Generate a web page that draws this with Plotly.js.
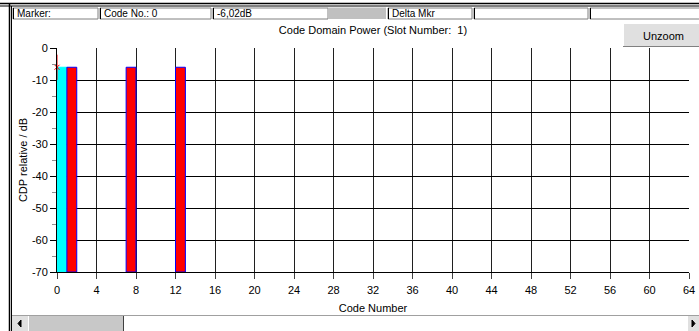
<!DOCTYPE html>
<html>
<head>
<meta charset="utf-8">
<script src="https://cdn.plot.ly/plotly-3.0.1.min.js"></script>
<style>html,body{margin:0;padding:0;background:#fff;}#chart{width:699px;height:331px;}</style>
</head>
<body>
<div id="chart"></div>
<script>
// ---- data ----
const codeNumbers = [0, 1, 7, 12];
const cdpValues = [-6.02, -6.02, -6.02, -6.02];
const barKinds = ['selected', 'active', 'active', 'active'];
const markerCode = [0];
const markerValue = [-6.02];
const xTicks = [0, 4, 8, 12, 16, 20, 24, 28, 32, 36, 40, 44, 48, 52, 56, 60, 64];
const yTicks = [0, -10, -20, -30, -40, -50, -60, -70];
const yMin = -70, yMax = 0, xMin = 0, xMax = 64;
const fieldLabels = ['Marker:', 'Code No.: 0', '-6,02dB', '', 'Delta Mkr', '', ''];

// ---- geometry helpers (pixel -> paper) ----
const L = 57, R = 689, T = 48, B = 272;
const px = v => (v - L) / (R - L);
const py = v => (B - v) / (B - T);
const FONT = 'Liberation Sans, Arial, sans-serif';

const shapes = [];
const annotations = [];
function rect(x0, y0, x1, y1, fill, line, lw) {
  shapes.push({type: 'rect', xref: 'paper', yref: 'paper', x0: px(x0), x1: px(x1), y0: py(y0), y1: py(y1),
    fillcolor: fill, line: {color: line || 'rgba(0,0,0,0)', width: lw === undefined ? 1 : lw}, layer: 'above'});
}
function line(x0, y0, x1, y1, color, w) {
  shapes.push({type: 'line', xref: 'paper', yref: 'paper', x0: px(x0), x1: px(x1), y0: py(y0), y1: py(y1),
    line: {color: color, width: w || 1}, layer: 'above'});
}
function text(x, y, t, size, anchor, color) {
  annotations.push({xref: 'paper', yref: 'paper', x: px(x), y: py(y), text: t, showarrow: false,
    xanchor: anchor || 'left', yanchor: 'middle', font: {family: FONT, size: size || 10, color: color || '#000'}});
}

// window frame
line(0, 3.5, 699, 3.5, '#000', 1.5);
line(0, 6, 699, 6, '#000', 1);
line(9.5, 3, 9.5, 331, '#000', 1.5);
line(11.5, 6, 11.5, 331, '#000', 1);

// status fields row
const fields = [[13, 98], [100, 211], [213, 328], [328, 386], [388, 472], [474, 588], [590, 700]];
fields.forEach((f, i) => {
  if (i === 3) { rect(f[0], 7.5, f[1], 19, '#c0c0c0', null, 0); return; }
  rect(f[0], 8, f[1], 19, '#fff', '#808080', 1);
  line(f[0] + 0.5, 8, f[0] + 0.5, 19, '#000', 1);
  if (fieldLabels[i]) text(f[0] + 2, 13.5, fieldLabels[i], 10, 'left');
});

// Unzoom button
rect(623, 23, 700, 47, '#e0e0e0', null, 0);
line(623, 23.5, 699, 23.5, '#fff', 1);
line(623.5, 23, 623.5, 47, '#fff', 1);
line(623, 46.5, 699, 46.5, '#808080', 1);
text(663, 35.5, 'Unzoom', 11, 'center');

// scrollbar
rect(12, 315, 699, 331, '#fff', null, 0);
line(12, 315.5, 699, 315.5, '#a0a0a0', 1);
rect(12, 316, 28, 331, '#e0e0e0', null, 0);
rect(29, 316, 123, 331, '#c8c8c8', null, 0);
line(123.5, 316, 123.5, 331, '#404040', 1);
rect(688, 316, 699, 331, '#e0e0e0', null, 0);
shapes.push({type: 'path', xref: 'paper', yref: 'paper', layer: 'above',
  path: `M ${px(21)} ${py(320)} L ${px(18)} ${py(323.5)} L ${px(21)} ${py(327)} Z`, fillcolor: '#000', line: {color: '#000', width: 1}});
shapes.push({type: 'path', xref: 'paper', yref: 'paper', layer: 'above',
  path: `M ${px(692)} ${py(320)} L ${px(695)} ${py(323.5)} L ${px(692)} ${py(327)} Z`, fillcolor: '#000', line: {color: '#000', width: 1}});

// ---- traces ----
const barColors = barKinds.map(k => k === 'selected' ? '#00ffff' : '#ff0000');
const barLines = barKinds.map(k => k === 'selected' ? '#00ffff' : '#0000ff');
const bars = {
  type: 'bar',
  x: codeNumbers.map(c => c + 0.5),
  y: cdpValues.map(v => v - yMin),
  base: yMin,
  width: 1,
  marker: {color: barColors, line: {color: barLines, width: 1}},
  hoverinfo: 'skip'
};
const mkLine = {
  type: 'scatter', mode: 'markers', x: markerCode, y: markerValue, cliponaxis: false,
  marker: {symbol: 'line-ns-open', size: 18, color: '#ff0000', line: {color: '#ff0000', width: 1}},
  hoverinfo: 'skip'
};
const mkX = {
  type: 'scatter', mode: 'markers', x: markerCode, y: markerValue, cliponaxis: false,
  marker: {symbol: 'x-thin-open', size: 5, color: '#ff0000', line: {color: '#ff0000', width: 1}},
  hoverinfo: 'skip'
};

const layout = {
  width: 699, height: 331,
  margin: {l: L, r: 699 - R, t: T, b: 331 - B, pad: 0},
  paper_bgcolor: '#fff', plot_bgcolor: '#fff',
  showlegend: false,
  bargap: 0,
  font: {family: FONT, size: 11, color: '#000'},
  title: {text: 'Code Domain Power (Slot Number:  1)', x: 0.5, xref: 'paper', xanchor: 'center',
    y: 1 - 30 / 331, yref: 'container', yanchor: 'middle', font: {family: FONT, size: 11, color: '#000'}},
  xaxis: {
    range: [xMin, xMax], tickmode: 'array', tickvals: xTicks, ticktext: xTicks.map(String),
    ticks: 'outside', ticklen: 6, tickcolor: '#404040', tickwidth: 1, ticklabelstandoff: 2,
    showgrid: true, gridcolor: '#202020', gridwidth: 1,
    showline: true, linecolor: '#000', linewidth: 1, zeroline: false,
    tickfont: {family: FONT, size: 11, color: '#000'},
    title: {text: 'Code Number', standoff: 9, font: {family: FONT, size: 11, color: '#000'}},
    fixedrange: true
  },
  yaxis: {
    range: [yMin, yMax], tickmode: 'array', tickvals: yTicks, ticktext: yTicks.map(String),
    ticks: 'outside', ticklen: 6, tickcolor: '#000', tickwidth: 1,
    minor: {dtick: 5, tick0: -5, ticks: 'outside', ticklen: 4, tickcolor: '#909090', showgrid: false},
    showgrid: true, gridcolor: '#000', gridwidth: 1,
    showline: true, linecolor: '#000', linewidth: 1, zeroline: false,
    tickfont: {family: FONT, size: 11, color: '#000'},
    title: {text: 'CDP relative / dB', standoff: 2, font: {family: FONT, size: 11, color: '#000'}},
    fixedrange: true
  },
  shapes: shapes,
  annotations: annotations
};

Plotly.newPlot('chart', [bars, mkLine, mkX], layout, {displayModeBar: false, staticPlot: true});
</script>
</body>
</html>
